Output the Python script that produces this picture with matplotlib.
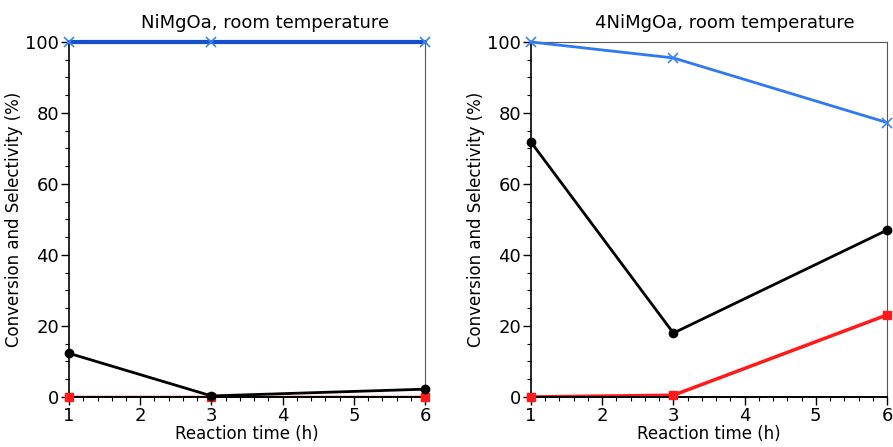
import matplotlib.pyplot as plt
from matplotlib.ticker import MultipleLocator

time_h = [1, 3, 6]

# NiMgOa, room temperature
nimgoa_blue = [100, 100, 100]
nimgoa_black = [12.3, 0.3, 2.2]
nimgoa_red = [0, 0, 0]

# 4NiMgOa, room temperature
ni4mgoa_blue = [100, 95.5, 77.3]
ni4mgoa_black = [71.8, 18.0, 47.0]
ni4mgoa_red = [0, 0.5, 23.1]

titles = ["NiMgOa, room temperature", "4NiMgOa, room temperature"]

plt.rcParams['font.family'] = ['DejaVu Sans']

fig = plt.figure(figsize=(8.93, 4.47), dpi=100)
ax1 = fig.add_axes([0.0773, 0.1119, 0.3987, 0.7942])
ax2 = fig.add_axes([0.5946, 0.1119, 0.3987, 0.7942])


def draw_panel(ax, blue, black, red, title, blue_col, blue_lw, title_x):
    ax.plot(time_h, blue, color=blue_col, lw=blue_lw, marker='x', ms=7,
            mec='#3a84f0', mew=1.2, clip_on=False, zorder=4)
    ax.plot(time_h, black, color='black', lw=2, marker='o', ms=6,
            clip_on=False, zorder=4)
    # red line sits under the bottom spine where it is zero
    ax.plot(time_h, red, color='#ff1a1a', lw=2.5, zorder=1)
    ax.plot(time_h, red, color='#ff1a1a', ls='none', marker='s', ms=6,
            clip_on=False, zorder=3)

    ax.set_xlim(1, 6)
    ax.set_ylim(0, 100)
    ax.xaxis.set_major_locator(MultipleLocator(1))
    ax.xaxis.set_minor_locator(MultipleLocator(0.2))
    ax.yaxis.set_major_locator(MultipleLocator(20))
    ax.yaxis.set_minor_locator(MultipleLocator(5))
    ax.tick_params(which='major', direction='out', length=6, width=1,
                   labelsize=13, pad=1, top=False, right=False)
    ax.tick_params(which='minor', direction='out', length=3, width=0.8,
                   top=False, right=False)
    ax.spines['bottom'].set_linewidth(1.4)
    ax.spines['left'].set_linewidth(1.2)
    for side in ['top', 'right']:
        ax.spines[side].set_color('#555555')
        ax.spines[side].set_linewidth(0.8)

    ax.set_xlabel("Reaction time (h)", fontsize=12, labelpad=0)
    ax.set_ylabel("Conversion and Selectivity (%)", fontsize=12, labelpad=2)
    ax.set_title(title, fontsize=13, pad=10, x=title_x)


draw_panel(ax1, nimgoa_blue, nimgoa_black, nimgoa_red, titles[0], '#1450cc', 3, 0.55)
draw_panel(ax2, ni4mgoa_blue, ni4mgoa_black, ni4mgoa_red, titles[1], '#2f78f5', 2, 0.545)

fig.savefig("out.png", dpi=100)
